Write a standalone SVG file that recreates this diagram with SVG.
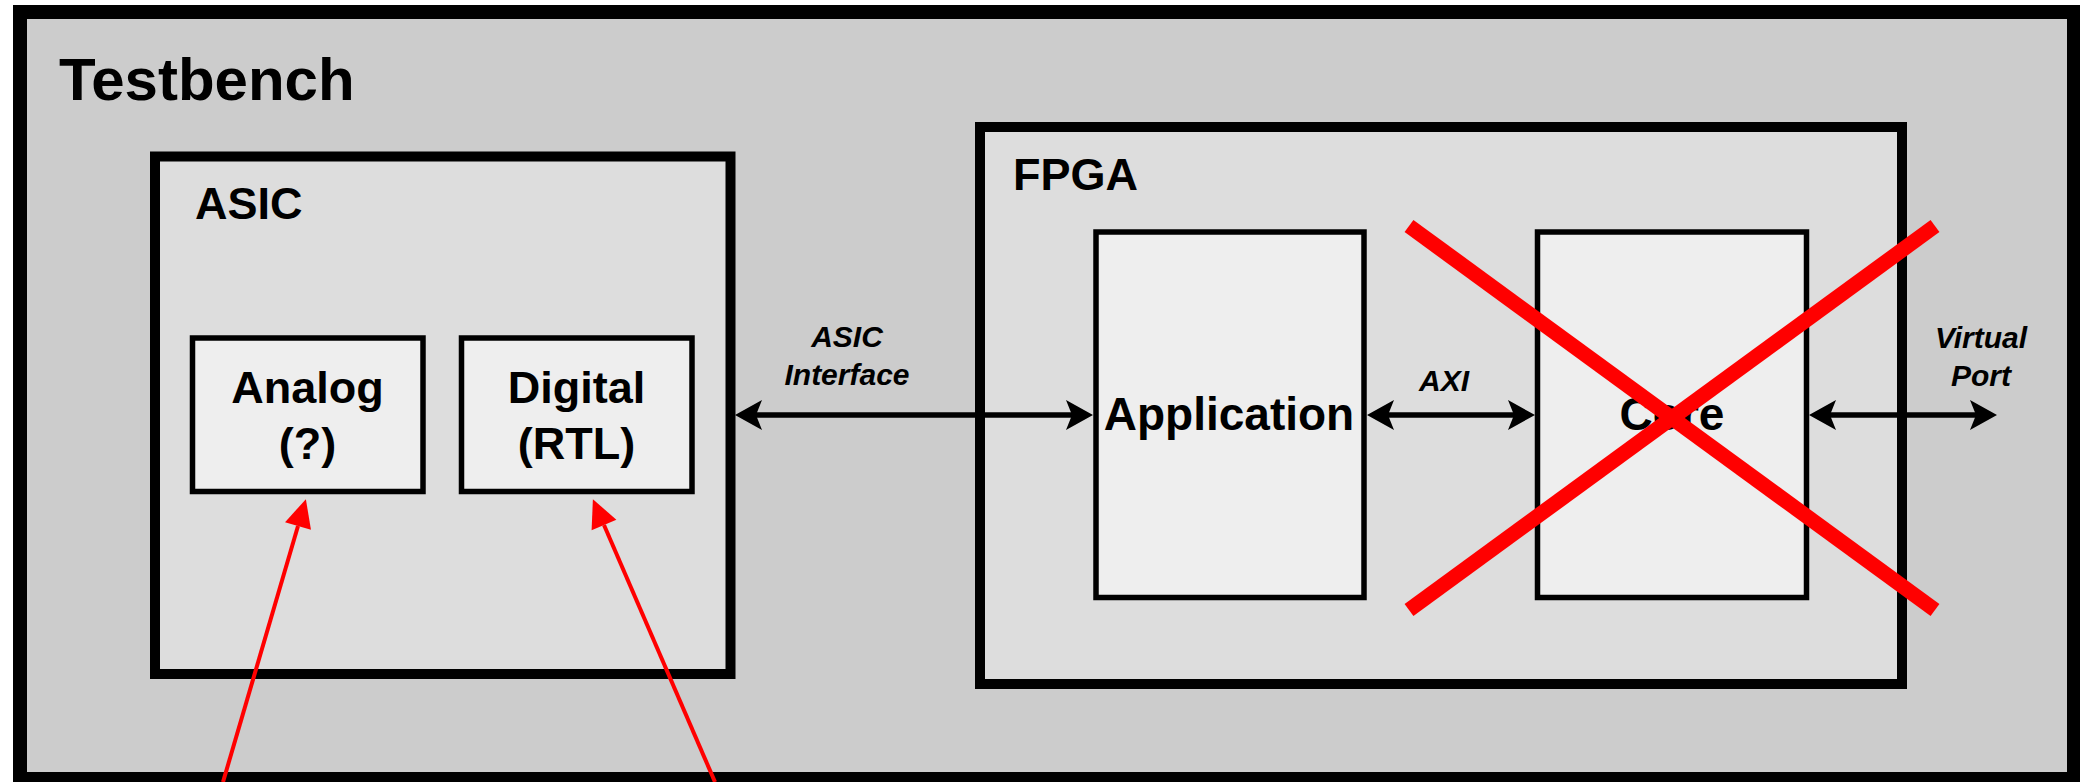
<svg xmlns="http://www.w3.org/2000/svg" width="2080" height="782" viewBox="0 0 2080 782">
<style>
.box{stroke:#000;}
.t{font-family:"Liberation Sans",Arial,sans-serif;font-weight:bold;fill:#000;}
.lbl{font-family:"Liberation Sans",Arial,sans-serif;font-weight:bold;font-style:italic;font-size:30px;fill:#000;text-anchor:middle;}
.conn{stroke:#000;stroke-width:5.5;fill:none;}
.red{stroke:#ff0000;stroke-width:4;fill:none;}
.x{stroke:#ff0000;stroke-width:15;stroke-linecap:butt;}
</style>
<defs>
<marker id="ah" viewBox="-7 -16 30 32" refX="0" refY="0" markerWidth="30" markerHeight="32" markerUnits="userSpaceOnUse" orient="auto-start-reverse">
<path d="M21,0 L-6,-15 L0,0 L-6,15 Z" fill="#000"/>
</marker>
<marker id="rh" viewBox="-2 -15 32 30" refX="0" refY="0" markerWidth="32" markerHeight="30" markerUnits="userSpaceOnUse" orient="auto">
<path d="M28,0 L0,-13.5 L0,13.5 Z" fill="#ff0000"/>
</marker>
</defs>
<g id="testbench">
<rect class="box" x="20" y="12" width="2054" height="767" fill="#cccccc" stroke-width="14"/>
<text class="t" x="59" y="100" font-size="60">Testbench</text>
</g>
<g id="asic">
<rect class="box" x="155" y="156.5" width="575.5" height="517.5" fill="#dddddd" stroke-width="10"/>
<text class="t" x="195" y="219" font-size="45">ASIC</text>
</g>
<g id="analog">
<rect class="box" x="192.5" y="338" width="230.5" height="153.5" fill="#eeeeee" stroke-width="5.5"/>
<text class="t" x="307.5" y="403" font-size="45" text-anchor="middle">Analog</text>
<text class="t" x="307.5" y="459" font-size="45" text-anchor="middle">(?)</text>
</g>
<g id="digital">
<rect class="box" x="461.5" y="338" width="230.5" height="153.5" fill="#eeeeee" stroke-width="5.5"/>
<text class="t" x="576.5" y="403" font-size="45" text-anchor="middle">Digital</text>
<text class="t" x="576.5" y="459" font-size="45" text-anchor="middle">(RTL)</text>
</g>
<g id="fpga">
<rect class="box" x="980" y="127" width="922" height="557" fill="#dddddd" stroke-width="10"/>
<text class="t" x="1013" y="190" font-size="45">FPGA</text>
</g>
<g id="application">
<rect class="box" x="1096" y="232" width="268" height="365.5" fill="#eeeeee" stroke-width="5.5"/>
<text class="t" x="1229" y="430" font-size="46" text-anchor="middle">Application</text>
</g>
<g id="core">
<rect class="box" x="1537.5" y="232" width="269" height="365.5" fill="#eeeeee" stroke-width="5.5"/>
<text class="t" x="1672" y="430" font-size="46" text-anchor="middle">Core</text>
</g>
<g id="connectors">
<line class="conn" x1="756" y1="415" x2="1072" y2="415" marker-start="url(#ah)" marker-end="url(#ah)"/>
<text class="lbl" x="847" y="347">ASIC</text>
<text class="lbl" x="847" y="385">Interface</text>
<line class="conn" x1="1388" y1="415" x2="1514" y2="415" marker-start="url(#ah)" marker-end="url(#ah)"/>
<text class="lbl" x="1444" y="391">AXI</text>
<line class="conn" x1="1830" y1="415" x2="1976" y2="415" marker-start="url(#ah)" marker-end="url(#ah)"/>
<text class="lbl" x="1981" y="348">Virtual</text>
<text class="lbl" x="1981" y="386">Port</text>
<line class="red" x1="223" y1="782" x2="298" y2="526" marker-end="url(#rh)"/>
<line class="red" x1="715" y1="782" x2="604" y2="525" marker-end="url(#rh)"/>
</g>
<g id="cross">
<line class="x" x1="1409" y1="226" x2="1935" y2="610"/>
<line class="x" x1="1935" y1="226" x2="1409" y2="610"/>
</g>
</svg>
